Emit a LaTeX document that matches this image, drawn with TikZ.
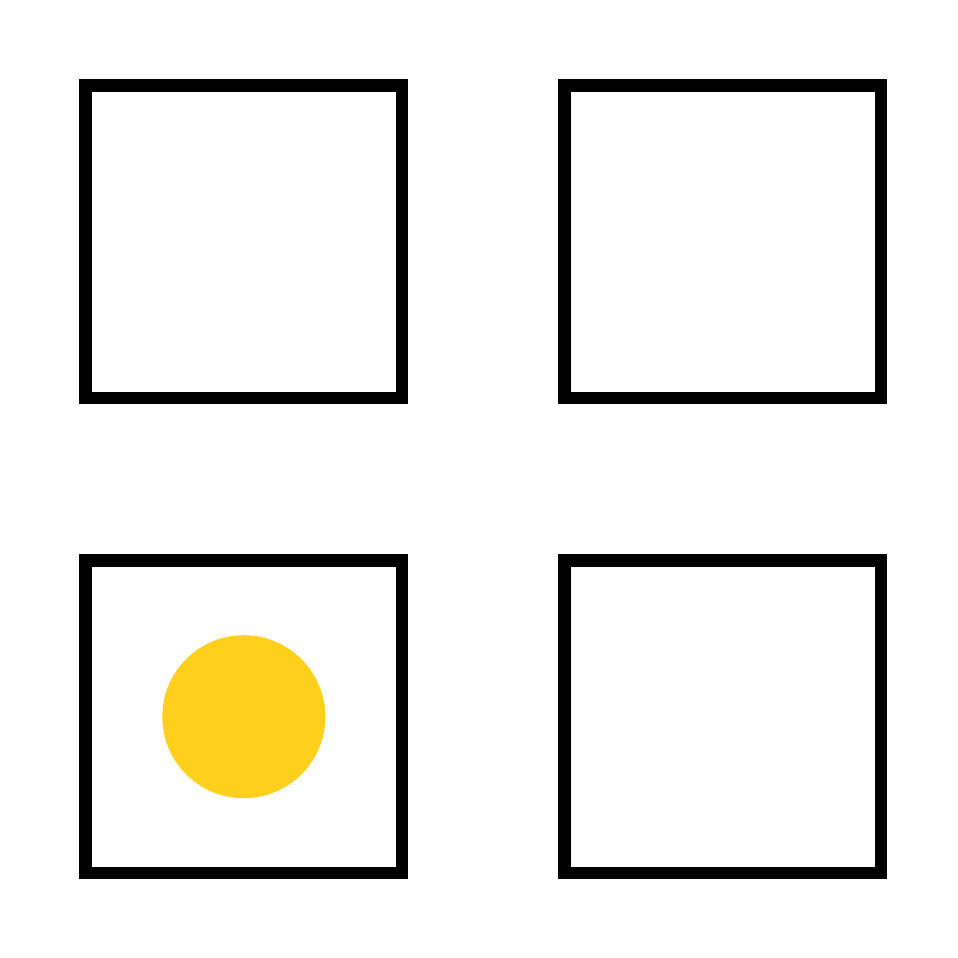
\documentclass[tikz,border=0pt]{standalone}
\usetikzlibrary{positioning}
\definecolor{sun}{RGB}{254,208,28}
\tikzset{cell/.style={draw=black,line width=12.5pt,minimum width=316.5pt,minimum height=312.5pt,inner sep=0pt},
         token/.style={circle,fill=sun,minimum size=163pt,inner sep=0pt}}

\begin{document}
\begin{tikzpicture}[x=1pt,y=-1pt]
  % 2x2 board, one token in the lower left cell
  \useasboundingbox (0,0) rectangle (958,958);
  \node[cell] (topleft) at (243.8,241.8) {};
  \node[cell] (topright) at (722.6,241.8) {};
  \node[cell] (botleft) at (243.8,716.7) {};
  \node[cell] (botright) at (722.6,716.7) {};
  \node[token] (coin) at (botleft.center) {};
\end{tikzpicture}
\end{document}
